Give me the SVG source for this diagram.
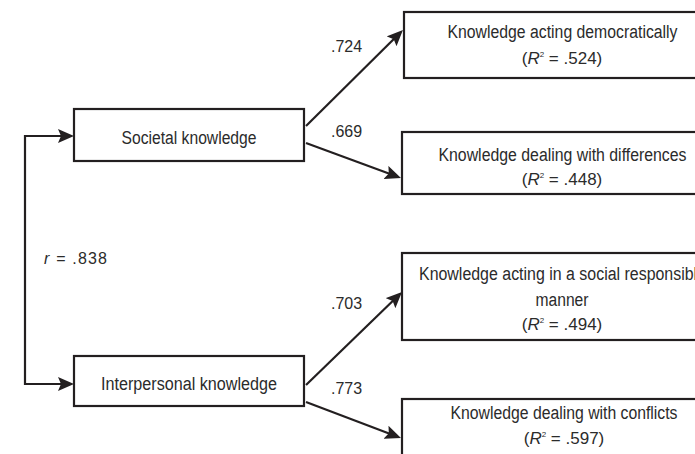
<svg xmlns="http://www.w3.org/2000/svg" width="695" height="454" viewBox="0 0 695 454">
  <style>
    .box { fill: #ffffff; stroke: #231f20; stroke-width: 2.2; }
    .conn { fill: none; stroke: #231f20; stroke-width: 2.2; }
    text { font-family: "Liberation Sans", Arial, sans-serif; font-size: 17px; fill: #2b2b2b; }
    .lbl { font-size: 18px; }
    .mid { text-anchor: middle; }
    .num { font-size: 16px; }
    .it { font-style: italic; }
    .sup { font-size: 8px; }
  </style>
  <defs>
    <marker id="arrow" markerUnits="userSpaceOnUse" markerWidth="18" markerHeight="14" refX="11" refY="7" orient="auto-start-reverse">
      <path d="M0,0 L16,7 L0,14 L3,7 z" fill="#231f20"/>
    </marker>
  </defs>
  <rect width="695" height="454" fill="#ffffff"/>

  <g id="connectors">
    <path class="conn" d="M69,136 H25 V384 H69" marker-start="url(#arrow)" marker-end="url(#arrow)"/>
    <line class="conn" x1="306" y1="126" x2="399.4" y2="33.5" marker-end="url(#arrow)"/>
    <line class="conn" x1="306" y1="143" x2="396.3" y2="176.3" marker-end="url(#arrow)"/>
    <line class="conn" x1="306" y1="385" x2="398.4" y2="295.5" marker-end="url(#arrow)"/>
    <line class="conn" x1="306" y1="402" x2="396.3" y2="436.2" marker-end="url(#arrow)"/>
    <text class="num" x="331" y="52">.724</text>
    <text class="num" x="331" y="137">.669</text>
    <text class="num" x="331" y="309">.703</text>
    <text class="num" x="331" y="394">.773</text>
    <text class="num" x="44" y="264" textLength="63"><tspan class="it">r</tspan> = .838</text>
  </g>

  <g id="societal">
    <rect class="box" x="74" y="109" width="230" height="52"/>
    <text class="mid lbl" x="189" y="144" textLength="135" lengthAdjust="spacingAndGlyphs">Societal knowledge</text>
  </g>

  <g id="interpersonal">
    <rect class="box" x="74" y="356" width="230" height="50"/>
    <text class="mid lbl" x="189" y="390" textLength="176" lengthAdjust="spacingAndGlyphs">Interpersonal knowledge</text>
  </g>

  <g id="democratically">
    <rect class="box" x="404" y="12" width="300" height="66"/>
    <text class="mid lbl" x="562.5" y="38" textLength="230" lengthAdjust="spacingAndGlyphs">Knowledge acting democratically</text>
    <text class="mid" x="562" y="64">(<tspan class="it">R</tspan><tspan class="sup" dy="-7">2</tspan><tspan dy="7"> = .524)</tspan></text>
  </g>

  <g id="differences">
    <rect class="box" x="402" y="132" width="300" height="62"/>
    <text class="mid lbl" x="562.5" y="161" textLength="248" lengthAdjust="spacingAndGlyphs">Knowledge dealing with differences</text>
    <text class="mid" x="562" y="185">(<tspan class="it">R</tspan><tspan class="sup" dy="-7">2</tspan><tspan dy="7"> = .448)</tspan></text>
  </g>

  <g id="social-responsible">
    <rect class="box" x="402" y="253" width="300" height="87"/>
    <text class="mid lbl" x="562.5" y="280" textLength="287" lengthAdjust="spacingAndGlyphs">Knowledge acting in a social responsible</text>
    <text class="mid lbl" x="562" y="306" textLength="53" lengthAdjust="spacingAndGlyphs">manner</text>
    <text class="mid" x="562" y="330">(<tspan class="it">R</tspan><tspan class="sup" dy="-7">2</tspan><tspan dy="7"> = .494)</tspan></text>
  </g>

  <g id="conflicts">
    <rect class="box" x="402" y="399" width="300" height="70"/>
    <text class="mid lbl" x="564" y="419" textLength="227" lengthAdjust="spacingAndGlyphs">Knowledge dealing with conflicts</text>
    <text class="mid" x="564" y="444">(<tspan class="it">R</tspan><tspan class="sup" dy="-7">2</tspan><tspan dy="7"> = .597)</tspan></text>
  </g>
</svg>
